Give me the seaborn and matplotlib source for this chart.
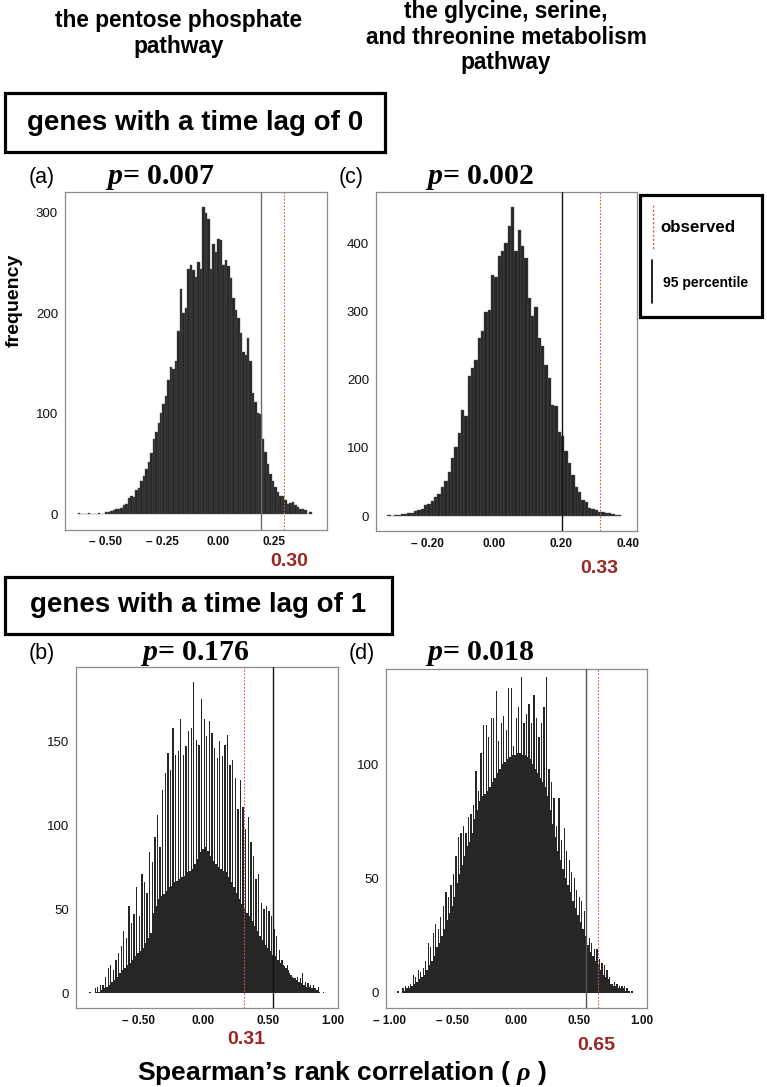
import numpy as np
import pandas as pd
import seaborn as sns
import matplotlib.pyplot as plt
from matplotlib.patches import Rectangle
from matplotlib.lines import Line2D

# ---- values ----
# (a) pentose phosphate pathway, time lag 0
a_bin_start, a_bin_width = -0.625, 0.0111
a_counts = [1, 0, 0, 0, 1, 0, 0, 0, 1, 0,
            0, 2, 2, 3, 4, 5, 5, 6, 9, 10,
            16, 18, 17, 24, 26, 33, 38, 45, 52, 61,
            75, 82, 91, 101, 110, 118, 134, 146, 144, 152,
            182, 224, 200, 205, 244, 248, 243, 236, 251, 244,
            305, 299, 293, 244, 269, 261, 274, 273, 248, 253,
            247, 235, 215, 203, 195, 180, 161, 158, 175, 152,
            121, 112, 101, 100, 75, 62, 50, 40, 33, 27,
            22, 18, 18, 14, 10, 11, 12, 9, 7, 5,
            5, 4, 0, 2]
a_p95, a_obs = 0.192, 0.296
a_obs_label = "0.30"
a_pvalue = "0.007"

# (c) glycine, serine and threonine metabolism, time lag 0
c_bin_start, c_bin_width = -0.32, 0.01
c_counts = [1, 0, 2, 2, 3, 3, 4, 5, 8, 9,
            10, 16, 18, 22, 28, 33, 42, 52, 64, 85,
            102, 122, 155, 147, 206, 217, 229, 262, 272, 300,
            303, 354, 351, 381, 389, 400, 426, 454, 389, 420,
            397, 378, 320, 293, 307, 261, 249, 222, 202, 163,
            162, 124, 118, 96, 78, 60, 42, 35, 24, 20,
            12, 10, 9, 6, 6, 4, 4, 3, 2, 2]
c_p95, c_obs = 0.204, 0.315
c_obs_label = "0.33"
c_pvalue = "0.002"

# (b) pentose phosphate pathway, time lag 1 (comb: tall bar then short bar)
b_bin_start, b_bin_width = -0.88, 0.01
b_tall = [1, 0, 3, 4, 5, 5, 10, 15, 17, 14,
          20, 24, 28, 37, 33, 52, 42, 47, 63, 46,
          71, 66, 60, 84, 78, 93, 106, 87, 121, 131,
          143, 133, 158, 142, 144, 163, 142, 147, 156, 158,
          185, 151, 148, 175, 163, 153, 162, 155, 146, 140,
          150, 141, 148, 154, 136, 139, 128, 110, 127, 111,
          98, 105, 90, 82, 68, 71, 54, 50, 52, 49,
          46, 38, 34, 26, 20, 16, 17, 12, 10, 9,
          10, 9, 12, 7, 6, 5, 5, 3, 4, 0, 1]
b_low = [0, 0, 1, 1, 2, 3, 4, 5, 7, 8,
         10, 12, 14, 15, 17, 18, 20, 22, 24, 25,
         27, 30, 33, 36, 48, 52, 56, 58, 59, 61,
         63, 64, 66, 67, 68, 69, 70, 72, 73, 74,
         77, 80, 84, 86, 87, 85, 82, 79, 77, 75,
         74, 73, 72, 69, 66, 63, 60, 56, 53, 50,
         48, 46, 43, 40, 37, 34, 32, 29, 27, 25,
         23, 22, 20, 18, 17, 15, 14, 11, 9, 8,
         7, 6, 5, 4, 4, 3, 3, 2, 1, 0, 0]
b_p95, b_obs = 0.533, 0.308
b_obs_label = "0.31"
b_pvalue = "0.176"

# (d) glycine, serine and threonine metabolism, time lag 1
d_bin_start, d_bin_width = -0.94, 0.01
d_tall = [1, 0, 2, 3, 3, 4, 8, 7, 10, 9,
          11, 14, 22, 20, 26, 30, 28, 33, 38, 44,
          42, 47, 52, 60, 68, 70, 73, 70, 77, 78,
          82, 97, 88, 105, 117, 117, 112, 120, 120, 132,
          110, 118, 121, 115, 133, 133, 108, 120, 125, 138,
          118, 122, 126, 118, 130, 120, 112, 118, 125, 138,
          98, 92, 85, 73, 85, 67, 72, 62, 58, 53,
          50, 45, 42, 40, 36, 30, 24, 22, 19, 19,
          15, 13, 12, 10, 7, 4, 5, 4, 3, 3,
          3, 2, 1, 1]
d_low = [0, 0, 1, 2, 2, 3, 4, 5, 6, 7,
         8, 10, 12, 14, 16, 20, 22, 25, 28, 32,
         35, 38, 42, 48, 52, 56, 60, 64, 66, 70,
         76, 80, 84, 86, 87, 88, 90, 92, 94, 96,
         98, 100, 101, 102, 103, 104, 104, 105, 105, 104,
         104, 103, 102, 100, 98, 96, 94, 92, 90, 86,
         80, 74, 68, 62, 58, 54, 50, 47, 44, 40,
         37, 34, 31, 28, 25, 21, 18, 16, 14, 12,
         10, 8, 7, 6, 4, 3, 3, 2, 2, 2,
         1, 1, 0, 0]
d_p95, d_obs = 0.559, 0.657
d_obs_label = "0.65"
d_pvalue = "0.018"

# ---- style ----
sns.set_style("white")
plt.rcParams['font.family'] = ['Liberation Sans', 'DejaVu Sans']
plt.rcParams['text.color'] = 'black'
plt.rcParams['mathtext.fontset'] = 'custom'
plt.rcParams['mathtext.it'] = 'Liberation Serif:italic:bold'
plt.rcParams['mathtext.rm'] = 'Liberation Serif:bold'

W, H = 767, 1087
BAR = '#262626'
RED_LINE = '#e0564c'
RED_TEXT = '#9b2320'


def fx(x):
    return x / W


def fy(y):
    return 1 - y / H


fig = plt.figure(figsize=(W / 100, H / 100), dpi=100)


def panel(box, start, width, counts, p95, obs, p95_color, xlim, ylim,
          xticks, xlabels, yticks, edge_lw):
    left, top, right, bottom = box
    ax = fig.add_axes([fx(left), fy(bottom), (right - left) / W, (bottom - top) / H])
    edges = start + width * np.arange(len(counts) + 1)
    df = pd.DataFrame({'rho': (edges[:-1] + edges[1:]) / 2, 'n': counts})
    sns.histplot(data=df, x='rho', weights='n', bins=edges.tolist(), ax=ax, color=BAR,
                 alpha=1, edgecolor='#5a5a5a', linewidth=edge_lw)
    ax.axvline(p95, color=p95_color, lw=1.0, zorder=3)
    ax.axvline(obs, color=RED_LINE, lw=0.8, ls=(0, (1.5, 1.5)), zorder=3)
    ax.set_xlim(*xlim)
    ax.set_ylim(*ylim)
    ax.set_xticks(xticks)
    ax.set_xticklabels(xlabels, fontweight='bold', fontsize=8.5, color='#111111')
    ax.set_yticks(yticks)
    ax.set_yticklabels([str(v) for v in yticks], fontsize=9.5, color='#111111')
    ax.set_xlabel('')
    ax.set_ylabel('')
    ax.tick_params(axis='both', direction='out', length=3, width=0.7,
                   color='#777777', pad=2)
    for sp in ax.spines.values():
        sp.set_color('#8c8c8c')
        sp.set_linewidth(0.9)
    return ax


def comb(tall, low):
    return [v for pair in zip(tall, low) for v in pair]


panel((65, 191.7, 327, 529.5), a_bin_start, a_bin_width, a_counts, a_p95, a_obs,
      '#6e6e6e', (-0.683, 0.487), (-15, 320.6),
      [-0.5, -0.25, 0, 0.25], ['– 0.50', '– 0.25', '0.00', '0.25'],
      [0, 100, 200, 300], 0.3)
panel((376, 191.7, 637, 531), c_bin_start, c_bin_width, c_counts, c_p95, c_obs,
      '#111111', (-0.354, 0.427), (-22, 476),
      [-0.2, 0, 0.2, 0.4], ['– 0.20', '0.00', '0.20', '0.40'],
      [0, 100, 200, 300, 400], 0.3)
panel((76, 666.7, 337.7, 1008.3), b_bin_start, b_bin_width, comb(b_tall, b_low),
      b_p95, b_obs, '#111111', (-0.983, 1.034), (-8.9, 194.4),
      [-0.5, 0, 0.5, 1.0], ['– 0.50', '0.00', '0.50', '1.00'],
      [0, 50, 100, 150], 0)
panel((386, 669, 646.7, 1008.3), d_bin_start, d_bin_width, comb(d_tall, d_low),
      d_p95, d_obs, '#555555', (-1.031, 1.041), (-6.7, 141.5),
      [-1, -0.5, 0, 0.5, 1.0], ['– 1.00', '– 0.50', '0.00', '0.50', '1.00'],
      [0, 50, 100], 0)

# ---- column headings ----
fig.text(fx(178.5), fy(33.7), "the pentose phosphate\npathway", ha='center',
         va='center', fontsize=16.3, fontweight='bold', linespacing=1.15)
fig.text(fx(506), fy(37), "the glycine, serine,\nand threonine metabolism\npathway",
         ha='center', va='center', fontsize=16.3, fontweight='bold', linespacing=1.15)

# ---- row boxes ----
for (x0, y0, x1, y1, label) in [(5, 93, 385, 152, "genes with a time lag of 0"),
                                (5, 577, 392, 634, "genes with a time lag of 1")]:
    fig.patches.append(Rectangle((fx(x0), fy(y1)), (x1 - x0) / W, (y1 - y0) / H,
                                 fill=False, lw=2.3, ec='black',
                                 transform=fig.transFigure, figure=fig))
    fig.text(fx((x0 + x1) / 2), fy((y0 + y1) / 2), label, ha='center', va='center',
             fontsize=20, fontweight='bold')

# ---- panel letters and p-values ----
for (lx, px, y, letter, pv) in [(42, 160, 177, "(a)", a_pvalue),
                                (351, 480, 177, "(c)", c_pvalue),
                                (42, 195, 653, "(b)", b_pvalue),
                                (362, 480, 653, "(d)", d_pvalue)]:
    fig.text(fx(lx), fy(y), letter, ha='center', va='center', fontsize=15.5)
    fig.text(fx(px), fy(y), r"$p$= " + pv, ha='center', va='center', fontsize=21.5,
             family='Liberation Serif', fontweight='bold')

# ---- observed values in red ----
for (x, y, txt) in [(289, 561, a_obs_label), (599.5, 568, c_obs_label),
                    (246.7, 1040, b_obs_label), (596, 1045, d_obs_label)]:
    fig.text(fx(x), fy(y), txt, ha='center', va='center', fontsize=14,
             fontweight='bold', color=RED_TEXT)

# ---- legend box ----
fig.patches.append(Rectangle((fx(640), fy(317)), 122 / W, 122 / H, fill=False, lw=2.3,
                             ec='black', transform=fig.transFigure, figure=fig))
fig.lines.append(Line2D([fx(653), fx(653)], [fy(205), fy(250)], color=RED_LINE, lw=1.0,
                        ls=(0, (1.5, 1.5)), transform=fig.transFigure, figure=fig))
fig.text(fx(660), fy(228), "observed", ha='left', va='center', fontsize=12.2,
         fontweight='bold')
fig.lines.append(Line2D([fx(652), fx(652)], [fy(260), fy(303)], color='black', lw=1.2,
                        transform=fig.transFigure, figure=fig))
fig.text(fx(663), fy(283), "95 percentile", ha='left', va='center', fontsize=10,
         fontweight='bold')

# ---- axis titles ----
fig.text(fx(14), fy(300), "frequency", ha='center', va='center', rotation=90,
         fontsize=14, fontweight='bold')
fig.text(fx(137), fy(1073), "Spearman’s rank correlation ( $\\rho$ )", ha='left',
         va='center', fontsize=19, fontweight='bold')

fig.savefig("out.png", dpi=100)
